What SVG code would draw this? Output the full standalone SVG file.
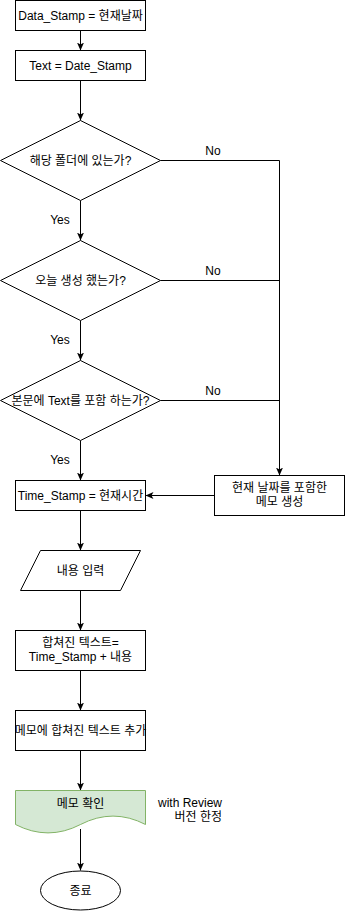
<svg xmlns="http://www.w3.org/2000/svg" width="345" height="911" viewBox="0 0 345 911">
<style>
.s{fill:#fff;stroke:#000;stroke-width:1}
.t{font-family:"Liberation Sans","Noto Sans CJK KR",sans-serif;font-size:12px;fill:#000;text-anchor:middle}
.c{fill:none;stroke:#000;stroke-width:1}
</style>
<defs>
<marker id="a" markerUnits="userSpaceOnUse" markerWidth="9" markerHeight="8" refX="8" refY="3.5" orient="auto" viewBox="0 0 9 8">
<path d="M0,0 L8,3.5 L0,7 L2,3.5 Z" fill="#000"/>
</marker>
</defs>
<rect width="345" height="911" fill="#fff"/>
<g id="connectors">
<path class="c" d="M80.5,30.5 V50.5" marker-end="url(#a)"/>
<path class="c" d="M80.5,80.5 V120.5" marker-end="url(#a)"/>
<path class="c" d="M80.5,200.5 V240.5" marker-end="url(#a)"/>
<path class="c" d="M80.5,320.5 V360.5" marker-end="url(#a)"/>
<path class="c" d="M80.5,440.5 V480.5" marker-end="url(#a)"/>
<path class="c" d="M160.5,160.5 H279.5 V475.5" marker-end="url(#a)"/>
<path class="c" d="M160.5,280.5 H279.5"/>
<path class="c" d="M160.5,400.5 H279.5"/>
<path class="c" d="M214.5,495.5 H145.5" marker-end="url(#a)"/>
<path class="c" d="M80.5,510.5 V550.5" marker-end="url(#a)"/>
<path class="c" d="M80.5,590.5 V630.5" marker-end="url(#a)"/>
<path class="c" d="M80.5,670.5 V710.5" marker-end="url(#a)"/>
<path class="c" d="M80.5,750.5 V790.5" marker-end="url(#a)"/>
<path class="c" d="M80.5,829 V870.5" marker-end="url(#a)"/>
<text class="t" x="60" y="224">Yes</text>
<text class="t" x="60" y="344">Yes</text>
<text class="t" x="60" y="464">Yes</text>
<text class="t" x="213" y="155">No</text>
<text class="t" x="213" y="275">No</text>
<text class="t" x="213" y="395">No</text>
</g>
<g id="n1"><rect class="s" x="15.5" y="0.5" width="130" height="30"/><text class="t" x="80.5" y="20">Data_Stamp = 현재날짜</text></g>
<g id="n2"><rect class="s" x="15.5" y="50.5" width="130" height="30"/><text class="t" x="80.5" y="70">Text = Date_Stamp</text></g>
<g id="d1"><path class="s" d="M80.5,120.5 L160.5,160.5 L80.5,200.5 L0.5,160.5 Z"/><text class="t" x="80.5" y="165">해당 폴더에 있는가?</text></g>
<g id="d2"><path class="s" d="M80.5,240.5 L160.5,280.5 L80.5,320.5 L0.5,280.5 Z"/><text class="t" x="80.5" y="285">오늘 생성 했는가?</text></g>
<g id="d3"><path class="s" d="M80.5,360.5 L160.5,400.5 L80.5,440.5 L0.5,400.5 Z"/><text class="t" x="80.5" y="405">본문에 Text를 포함 하는가?</text></g>
<g id="n3"><rect class="s" x="15.5" y="480.5" width="130" height="30"/><text class="t" x="80.5" y="500">Time_Stamp = 현재시간</text></g>
<g id="n4"><rect class="s" x="214.5" y="475.5" width="130" height="40"/><text class="t" x="279.5" y="492">현재 날짜를 포함한</text><text class="t" x="279.5" y="506">메모 생성</text></g>
<g id="n5"><path class="s" d="M40.5,550.5 H140.5 L120.5,590.5 H20.5 Z"/><text class="t" x="80.5" y="575">내용 입력</text></g>
<g id="n6"><rect class="s" x="15.5" y="630.5" width="130" height="40"/><text class="t" x="80.5" y="647">합쳐진 텍스트=</text><text class="t" x="80.5" y="661">Time_Stamp + 내용</text></g>
<g id="n7"><rect class="s" x="15.5" y="710.5" width="130" height="40"/><text class="t" x="80.5" y="735">메모에 합쳐진 텍스트 추가</text></g>
<g id="n8"><path d="M15.5,790.5 H145.5 V824.5 Q113,807.7 80.5,824.5 Q48,841.3 15.5,824.5 Z" fill="#d5e8d4" stroke="#82b366" stroke-width="1"/><text class="t" x="80.5" y="808">메모 확인</text></g>
<g id="note"><text class="t" x="222" y="807" style="text-anchor:end">with Review</text><text class="t" x="222" y="821" style="text-anchor:end">버전 한정</text></g>
<g id="n9"><ellipse class="s" cx="80.5" cy="890.5" rx="40" ry="19.5"/><text class="t" x="80.5" y="895">종료</text></g>
</svg>
